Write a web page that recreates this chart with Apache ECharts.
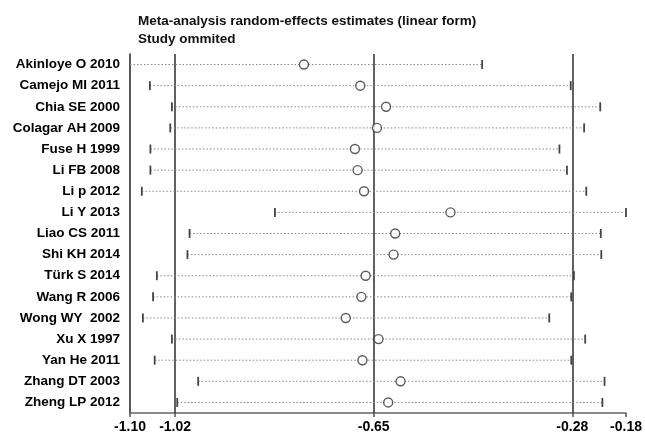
<!DOCTYPE html>
<html>
<head>
<meta charset="utf-8">
<script src="https://cdn.jsdelivr.net/npm/echarts@6/dist/echarts.min.js"></script>
<style>
    html, body { margin: 0; padding: 0; background: #fff; }
    #main { width: 645px; height: 435px; }
</style>
</head>
<body>
<div id="main"></div>
<script>
// studies omitted, top to bottom
var studies = ['Akinloye O 2010', 'Camejo MI 2011', 'Chia SE 2000', 'Colagar AH 2009', 'Fuse H 1999',
    'Li FB 2008', 'Li p 2012', 'Li Y 2013', 'Liao CS 2011', 'Shi KH 2014', 'T\u00fcrk S 2014',
    'Wang R 2006', 'Wong WY  2002', 'Xu X 1997', 'Yan He 2011', 'Zhang DT 2003', 'Zheng LP 2012'];
var estimate = [-0.780, -0.675, -0.627, -0.644, -0.685, -0.680, -0.668, -0.507, -0.610,
    -0.613, -0.665, -0.673, -0.702, -0.641, -0.671, -0.600, -0.623];
var lower = [-1.120, -1.067, -1.026, -1.029, -1.066, -1.066, -1.082, -0.834, -0.993,
    -0.997, -1.054, -1.061, -1.080, -1.026, -1.058, -0.977, -1.016];
var upper = [-0.448, -0.283, -0.228, -0.258, -0.304, -0.290, -0.254, -0.179, -0.227,
    -0.226, -0.277, -0.282, -0.323, -0.256, -0.282, -0.220, -0.224];
// overall estimate and its CI (reference lines)
var refLines = [-1.02, -0.65, -0.28];
var tickValues = [-1.104, -1.02, -0.65, -0.28, -0.18];
var tickLabels = ['-1.10', '-1.02', '-0.65', '-0.28', '-0.18'];

var xMin = tickValues[0], xMax = tickValues[tickValues.length - 1];

var myChart = echarts.init(document.getElementById('main'));

var ciData = [];
for (var i = 0; i < studies.length; i++) {
    ciData.push([lower[i], upper[i], i]);
}
var ptData = [];
for (var j = 0; j < studies.length; j++) {
    ptData.push([estimate[j], j]);
}

function renderCI(params, api) {
    var lo = api.value(0), hi = api.value(1), idx = api.value(2);
    var loClip = lo < xMin;
    var p0 = api.coord([Math.max(lo, xMin), idx]);
    var p1 = api.coord([Math.min(hi, xMax), idx]);
    var children = [{
        type: 'line',
        shape: {x1: p0[0], y1: p0[1], x2: p1[0], y2: p1[1]},
        style: {stroke: '#888', lineWidth: 1, lineDash: [1.5, 2]}
    }];
    if (!loClip) {
        children.push({
            type: 'line',
            shape: {x1: p0[0], y1: p0[1] - 4.5, x2: p0[0], y2: p0[1] + 4.5},
            style: {stroke: '#444', lineWidth: 1.8}
        });
    }
    children.push({
        type: 'line',
        shape: {x1: p1[0], y1: p1[1] - 4.5, x2: p1[0], y2: p1[1] + 4.5},
        style: {stroke: '#444', lineWidth: 1.8}
    });
    return {type: 'group', children: children};
}

var option = {
    animation: false,
    title: {
        text: 'Meta-analysis random-effects estimates (linear form)\nStudy ommited',
        left: 133,
        top: 7,
        textStyle: {
            fontFamily: 'Liberation Sans, Arial, sans-serif',
            fontSize: 13.5,
            fontWeight: 'bold',
            color: '#111',
            lineHeight: 18
        }
    },
    grid: {left: 130, right: 19, top: 54, bottom: 22},
    xAxis: {
        type: 'value',
        min: xMin,
        max: xMax,
        splitLine: {show: false},
        axisLine: {show: true, lineStyle: {color: '#666', width: 1.5}},
        axisTick: {show: true, length: 4, customValues: tickValues, lineStyle: {color: '#555', width: 1.5}},
        axisLabel: {
            customValues: tickValues,
            margin: 7,
            color: '#000',
            fontFamily: 'Liberation Sans, Arial, sans-serif',
            fontSize: 14,
            fontWeight: 'bold',
            formatter: function (v) {
                var best = 0;
                for (var k = 1; k < tickValues.length; k++) {
                    if (Math.abs(tickValues[k] - v) < Math.abs(tickValues[best] - v)) best = k;
                }
                return tickLabels[best];
            }
        }
    },
    yAxis: {
        type: 'category',
        data: studies,
        inverse: true,
        axisLine: {show: true, onZero: false, lineStyle: {color: '#222', width: 1.5}},
        axisTick: {show: false},
        splitLine: {show: false},
        axisLabel: {
            margin: 10,
            color: '#000',
            fontFamily: 'Liberation Sans, Arial, sans-serif',
            fontSize: 13.5,
            fontWeight: 'bold'
        }
    },
    series: [
        {
            type: 'custom',
            renderItem: renderCI,
            encode: {x: [0, 1], y: 2},
            data: ciData,
            z: 2
        },
        {
            type: 'scatter',
            data: ptData,
            symbol: 'circle',
            symbolSize: 9,
            itemStyle: {color: '#fff', borderColor: '#333', borderWidth: 1.4},
            z: 5,
            markLine: {
                silent: true,
                symbol: 'none',
                label: {show: false},
                z: 1,
                lineStyle: {color: '#3a3a3a', width: 1.6, type: 'solid'},
                data: refLines.map(function (v) { return {xAxis: v}; })
            }
        }
    ]
};

myChart.setOption(option);
</script>
</body>
</html>
